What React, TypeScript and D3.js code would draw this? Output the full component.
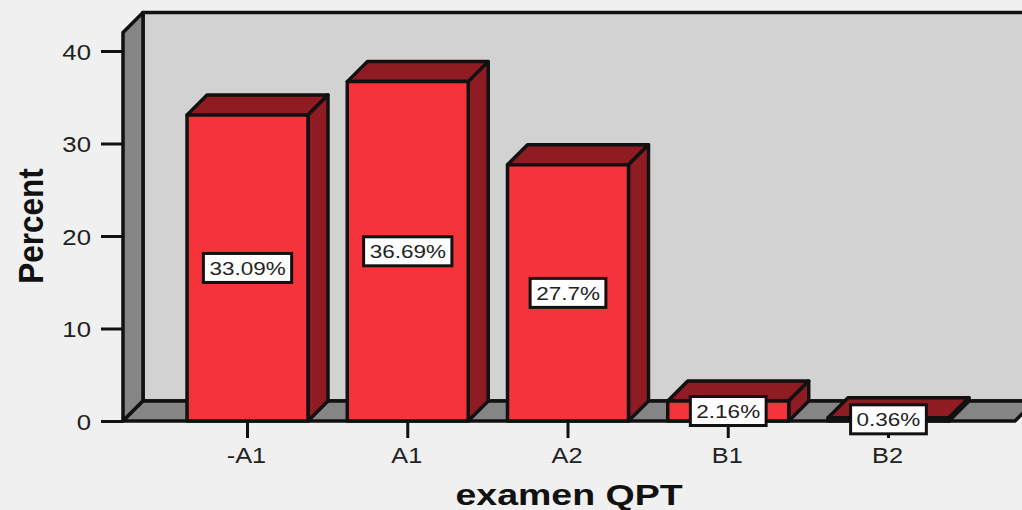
import { useEffect, useRef } from 'react'
import { select, scaleBand, scaleLinear, axisLeft, axisBottom } from 'd3'

const categories = ['-A1', 'A1', 'A2', 'B1', 'B2']
const percents = [33.09, 36.69, 27.7, 2.16, 0.36]
const yTicks = [0, 10, 20, 30, 40]

const WIDTH = 1022
const HEIGHT = 510
const DEPTH = 20 // 3d offset of the box
const STRETCH = 1.25 // the picture is wider than it should be, text too
const FONT = '"Liberation Sans", Arial, sans-serif'
const INK = '#111'

const App = () => {
  const svgRef = useRef<SVGSVGElement>(null)

  useEffect(() => {
    const svg = select(svgRef.current)
    svg.selectAll('*').remove()

    const x = scaleBand<string>()
      .domain(categories)
      .range([167.4, 968.6])
      .paddingInner(0.245)
      .paddingOuter(0.1225)
    const y = scaleLinear().domain([0, 42]).range([421, 32.5])

    const left = 123
    const right = WIDTH + 13
    const base = y(0)
    const top = y(42)
    const pts = (p: number[][]) => p.map(d => d.join(',')).join(' ')

    const box = svg.append('g').attr('stroke', INK).attr('stroke-width', 3.5).attr('stroke-linejoin', 'round')
    box.append('polygon')
      .attr('fill', '#d2d2d2')
      .attr('points', pts([[left + DEPTH, top - DEPTH], [right, top - DEPTH], [right, base - DEPTH], [left + DEPTH, base - DEPTH]]))
    box.append('polygon')
      .attr('fill', '#858585')
      .attr('points', pts([[left, top], [left + DEPTH, top - DEPTH], [left + DEPTH, base - DEPTH], [left, base]]))
    box.append('polygon')
      .attr('fill', '#858585')
      .attr('points', pts([[left, base], [left + DEPTH, base - DEPTH], [right, base - DEPTH], [right - DEPTH, base]]))

    // axes first, the bars and labels sit over the tick ends
    const yAxis = svg.append('g')
      .attr('transform', `translate(${left},0)`)
      .call(axisLeft(y).tickValues(yTicks).tickSize(22).tickPadding(10))
    const xAxis = svg.append('g')
      .attr('transform', `translate(0,${base})`)
      .call(axisBottom(x).tickSize(17))
    yAxis.select('.domain').remove()
    xAxis.select('.domain').remove()
    svg.selectAll('.tick line').attr('stroke', INK).attr('stroke-width', 3)
    yAxis.selectAll('.tick text')
      .attr('x', 0).attr('dy', null).attr('y', 8)
      .attr('transform', 'translate(-32,0) scale(1.12,1)')
      .attr('font-family', FONT).attr('font-size', 23).attr('fill', '#222')
    xAxis.selectAll('.tick text')
      .attr('y', 0).attr('dy', null)
      .attr('transform', 'translate(-1,42) scale(1.15,1)')
      .attr('font-family', FONT).attr('font-size', 22).attr('fill', '#222')

    const bars = svg.selectAll('.bar')
      .data(categories)
      .join('g')
      .attr('class', 'bar')
      .attr('stroke', INK)
      .attr('stroke-width', 3.5)
      .attr('stroke-linejoin', 'round')

    const x0 = (d: string) => x(d) as number
    const x1 = (d: string) => x0(d) + x.bandwidth()
    const yv = (i: number) => y(percents[i])

    bars.append('polygon')
      .attr('fill', '#8f1c22')
      .attr('points', (d, i) => pts([[x0(d), yv(i)], [x0(d) + DEPTH, yv(i) - DEPTH], [x1(d) + DEPTH, yv(i) - DEPTH], [x1(d), yv(i)]]))
    bars.append('polygon')
      .attr('fill', '#8f1c22')
      .attr('points', (d, i) => pts([[x1(d), yv(i)], [x1(d) + DEPTH, yv(i) - DEPTH], [x1(d) + DEPTH, base - DEPTH], [x1(d), base]]))
    bars.append('rect')
      .attr('fill', '#f5333b')
      .attr('x', d => x0(d))
      .attr('y', (d, i) => yv(i))
      .attr('width', x.bandwidth())
      .attr('height', (d, i) => base - yv(i))

    // value labels, box is sized from the text
    categories.forEach((c, i) => {
      const cx = x0(c) + x.bandwidth() / 2
      const cy = y(percents[i] / 2)
      const g = svg.append('g').attr('transform', `translate(${cx},${cy})`)
      const rect = g.append('rect')
      const label = g.append('text')
        .text(`${percents[i]}%`)
        .attr('text-anchor', 'middle')
        .attr('y', 7)
        .attr('transform', `scale(${STRETCH},1)`)
        .attr('font-family', FONT)
        .attr('font-size', 18)
        .attr('fill', '#222')
      const w = (label.node() as SVGTextElement).getComputedTextLength() * STRETCH + 12
      rect.attr('x', -w / 2).attr('y', -14.5).attr('width', w).attr('height', 29)
        .attr('fill', '#fff').attr('stroke', INK).attr('stroke-width', 3)
    })

    svg.append('text')
      .text('Percent')
      .attr('transform', `translate(43,226) scale(1.12,1) rotate(-90)`)
      .attr('text-anchor', 'middle')
      .attr('font-family', FONT)
      .attr('font-weight', 'bold')
      .attr('font-size', 31.5)
      .attr('fill', INK)

    svg.append('text')
      .text('examen QPT')
      .attr('transform', `translate(569,505) scale(${STRETCH},1)`)
      .attr('text-anchor', 'middle')
      .attr('font-family', FONT)
      .attr('font-weight', 'bold')
      .attr('font-size', 30)
      .attr('fill', INK)
  }, [])

  return (
    <svg
      ref={svgRef}
      width={WIDTH}
      height={HEIGHT}
      style={{ position: 'absolute', left: 0, top: 0, background: '#f0f0f0' }}
    />
  )
}

export default App
